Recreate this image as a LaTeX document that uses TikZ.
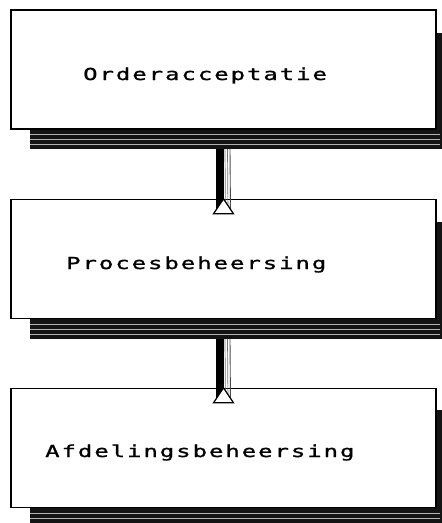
\documentclass[tikz,border=0pt]{standalone}
\usepackage{fontspec}
\newfontfamily\plotfont[FakeStretch=1.45,LetterSpace=12,FakeBold=1.2]{DejaVu Sans Mono}
\begin{document}
\begin{tikzpicture}[x=1pt,y=-1pt,
  block/.style={draw=black,line width=1.4pt,fill=white,
    minimum width=425pt,minimum height=119pt,inner sep=0pt},
  label/.style={anchor=base west,inner sep=0pt,
    font=\plotfont\fontsize{16.5}{18}\selectfont},
  shadowfill/.style={fill=black!92},
  stripe/.style={draw=white!70!black,line width=0.8pt},
  headtip/.style={draw=black,line width=1.2pt,fill=white,line join=miter}
]
\useasboundingbox (0,0) rectangle (442,523);

% stacked shadow behind each block: right edge and striped bottom band
\foreach \top/\bot/\rt in {10/129/33, 199/319/222, 388/508/410}{
  \fill[shadowfill] (30,\bot) rectangle (442,\bot+20);
  \fill[shadowfill] (436,\rt) rectangle (442,\bot+20);
  \foreach \d in {5,10,15}
    \draw[stripe] (30,\bot+\d) -- (440,\bot+\d);
}

% the three blocks
\node[block] (b1) at (223.5,69.5) {};
\node[block] (b2) at (223.5,259) {};
\node[block] (b3) at (223.5,448) {};

\node[label] (t1) at (83,80) {Orderacceptatie};
\node[label] (t2) at (66,269) {Procesbeheersing};
\node[label] (t3) at (45,457) {Afdelingsbeheersing};

% ends of the shafts below each shadow band
\coordinate (s1) at (223,149);
\coordinate (s2) at (223,339);

% hatched arrow shaft with an open head, from shadow band down to a block
\foreach \from/\to in {s1/b2, s2/b3}{
  \path (\from) coordinate (p) (\to.north) coordinate (q);
  \fill[black] ([xshift=-7pt]p) rectangle ([xshift=0pt,yshift=-15pt]q);
  \draw[draw=black!55,line width=0.7pt] ([xshift=2pt]p) -- ([xshift=2pt,yshift=-15pt]q);
  \draw[draw=black!55,line width=0.7pt] ([xshift=4.5pt]p) -- ([xshift=4.5pt,yshift=-15pt]q);
  \draw[draw=black!70,line width=0.9pt] ([xshift=7pt]p) -- ([xshift=7pt,yshift=-15pt]q);
  \draw[headtip] ([xshift=-10pt,yshift=-15pt]q) -- ([xshift=10pt,yshift=-15pt]q)
    -- (q) -- cycle;
}
\end{tikzpicture}
\end{document}
